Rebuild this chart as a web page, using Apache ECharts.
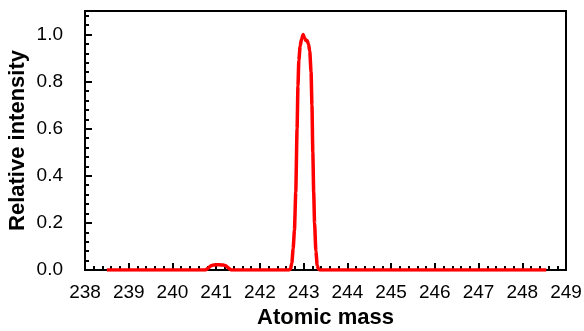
<!DOCTYPE html>
<html>
<head>
<meta charset="utf-8">
<script src="https://cdn.jsdelivr.net/npm/echarts@6/dist/echarts.min.js"></script>
<style>
  html, body { margin: 0; padding: 0; background: #fff; }
  #chart { width: 584px; height: 331px; }
</style>
</head>
<body>
<div id="chart"></div>
<script>
// Mass spectrum: atomic mass (u) vs. relative intensity
const masses = [
  238.50, 240.00, 240.76, 240.82, 240.88, 240.94, 241.00, 241.08, 241.16, 241.22, 241.28, 241.34,
  242.00, 242.66, 242.70, 242.73, 242.76, 242.79, 242.82, 242.85, 242.87, 242.89, 242.92,
  242.95, 242.99, 243.02, 243.05, 243.08, 243.11, 243.14, 243.17, 243.19, 243.21, 243.23,
  243.25, 243.28, 243.31, 243.34, 243.37, 245.00, 248.55
];
const intensities = [
  0, 0, 0, 0.008, 0.018, 0.021, 0.022, 0.022, 0.021, 0.018, 0.008, 0,
  0, 0, 0.004, 0.03, 0.09, 0.17, 0.33, 0.6, 0.78, 0.89, 0.95,
  0.98, 1.0, 0.985, 0.975, 0.975, 0.96, 0.93, 0.84, 0.7, 0.5, 0.33,
  0.2, 0.08, 0.02, 0.003, 0, 0, 0
];
const massTicks = [238, 239, 240, 241, 242, 243, 244, 245, 246, 247, 248, 249];
const intensityTicks = [0.0, 0.2, 0.4, 0.6, 0.8, 1.0];

const FONT = 'Liberation Sans, Arial, sans-serif';
const points = masses.map((m, i) => [m, intensities[i]]);

const chart = echarts.init(document.getElementById('chart'), null, { renderer: 'canvas' });

const yCommon = {
  type: 'value',
  min: 0,
  max: 1.1,
  position: 'left',
  splitLine: { show: false },
  axisLine: { show: true, onZero: false, lineStyle: { color: '#000', width: 2 } }
};

chart.setOption({
  animation: false,
  backgroundColor: '#fff',
  grid: {
    left: 85, right: 18, top: 11, bottom: 61,
    outerBoundsMode: 'none',
    containLabel: false,
    show: true, borderColor: '#000', borderWidth: 2, backgroundColor: 'transparent'
  },
  xAxis: {
    type: 'value',
    min: massTicks[0],
    max: massTicks[massTicks.length - 1],
    interval: 1,
    name: 'Atomic mass',
    nameLocation: 'middle',
    nameGap: 37,
    nameMoveOverlap: false,
    nameTextStyle: { fontFamily: FONT, fontSize: 22, fontWeight: 'bold', color: '#000' },
    axisLine: { show: true, onZero: false, lineStyle: { color: '#000', width: 2 } },
    axisTick: { show: true, inside: true, length: 7, lineStyle: { color: '#000', width: 2 } },
    minorTick: { show: true, splitNumber: 5, length: 4, lineStyle: { color: '#000', width: 2 } },
    axisLabel: { fontFamily: FONT, fontSize: 19, color: '#000', margin: 13 },
    splitLine: { show: false }
  },
  yAxis: [
    Object.assign({}, yCommon, {
      // minor ticks every 0.04
      interval: 0.04,
      axisTick: { show: true, inside: true, length: 4, lineStyle: { color: '#000', width: 2 } },
      axisLabel: { show: false }
    }),
    Object.assign({}, yCommon, {
      interval: 0.2,
      name: 'Relative intensity',
      nameLocation: 'middle',
      nameGap: 56,
      nameMoveOverlap: false,
      nameTextStyle: { fontFamily: FONT, fontSize: 22, fontWeight: 'bold', color: '#000' },
      axisTick: { show: true, inside: true, length: 7, lineStyle: { color: '#000', width: 2 } },
      axisLabel: {
        fontFamily: FONT, fontSize: 19, color: '#000', margin: 22,
        formatter: v => intensityTicks.some(t => Math.abs(t - v) < 1e-6) ? v.toFixed(1) : ''
      }
    })
  ],
  series: [{
    type: 'line',
    yAxisIndex: 0,
    data: points,
    showSymbol: false,
    smooth: 0.2,
    smoothMonotone: 'x',
    lineStyle: { color: '#ff0000', width: 3.5 },
    clip: true
  }]
});
</script>
</body>
</html>
